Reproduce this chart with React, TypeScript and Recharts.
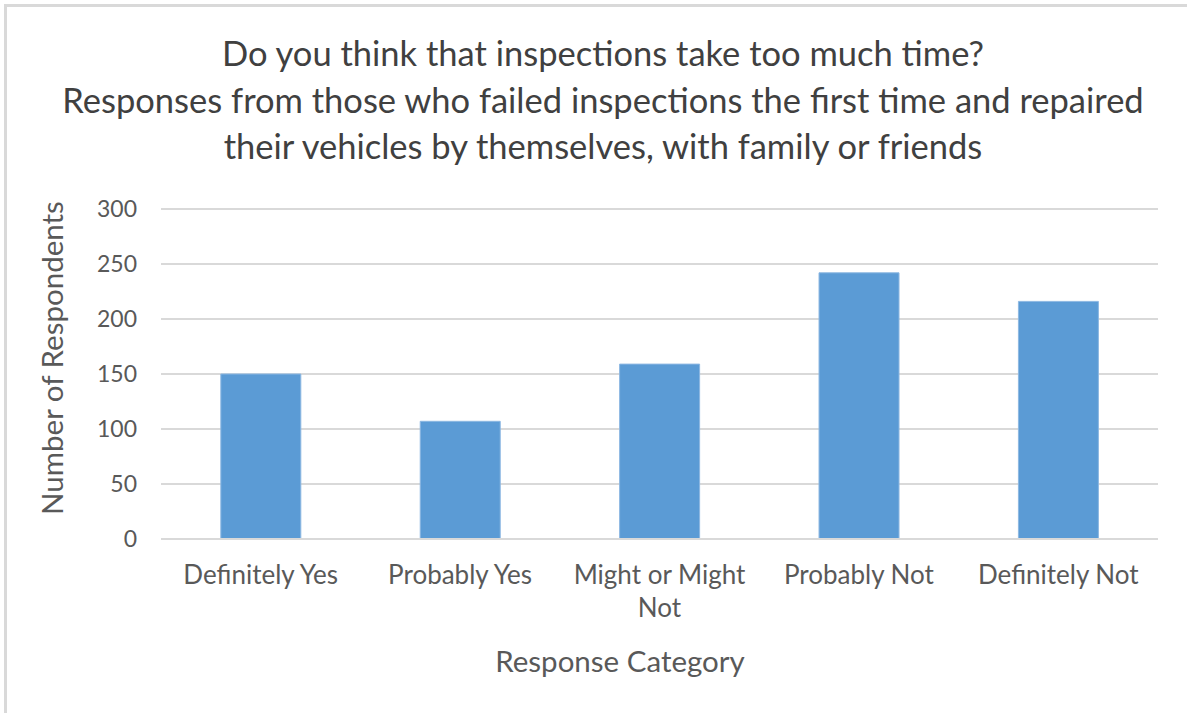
import React from 'react';
import { BarChart, Bar, XAxis, YAxis, CartesianGrid } from 'recharts';

const categories: string[] = ['Definitely Yes', 'Probably Yes', 'Might or Might Not', 'Probably Not', 'Definitely Not'];
const respondents: number[] = [150, 107, 159, 242, 216];
const yTicks: number[] = [0, 50, 100, 150, 200, 250, 300];
const titleLines: string[] = [
  'Do you think that inspections take too much time?',
  'Responses from those who failed inspections the first time and repaired',
  'their vehicles by themselves, with family or friends',
];
const xAxisTitle = 'Response Category';
const yAxisTitle = 'Number of Respondents';

const data = categories.map((c, i) => ({ category: c, value: respondents[i] }));

const FONT = 'Lato, "Open Sans", sans-serif';
const TICK_FONT_SIZE = 26;

let ctx: CanvasRenderingContext2D | null = null;
function measure(s: string): number {
  if (!ctx && typeof document !== 'undefined') {
    ctx = document.createElement('canvas').getContext('2d');
  }
  if (!ctx) return s.length * TICK_FONT_SIZE * 0.5;
  ctx.font = `${TICK_FONT_SIZE}px Lato`;
  return ctx.measureText(s).width;
}

function wrap(label: string, maxWidth: number): string[] {
  const words = label.split(' ');
  const lines: string[] = [];
  let cur = '';
  for (const w of words) {
    const next = cur ? cur + ' ' + w : w;
    if (cur && measure(next) > maxWidth) {
      lines.push(cur);
      cur = w;
    } else {
      cur = next;
    }
  }
  if (cur) lines.push(cur);
  return lines;
}

const XTick = (props: any) => {
  const { x, y, payload } = props;
  const lines = wrap(String(payload.value), 195);
  return (
    <text x={x} y={y} textAnchor="middle" fill="#595959" fontSize={TICK_FONT_SIZE} fontFamily={FONT}>
      {lines.map((l, i) => (
        <tspan key={i} x={x} dy={i === 0 ? '0.71em' : 33}>
          {l}
        </tspan>
      ))}
    </text>
  );
};

export default function App() {
  return (
    <div style={{ position: 'absolute', left: 0, top: 0, width: 1187, height: 713, background: '#fff', overflow: 'hidden', fontFamily: FONT }}>
      <div style={{ position: 'absolute', left: 4, top: 4, width: 1183, height: 3, background: '#d9d9d9' }} />
      <div style={{ position: 'absolute', left: 4, top: 4, width: 3, height: 709, background: '#d9d9d9' }} />
      <div style={{ position: 'absolute', left: 0, top: 30, width: 1206, textAlign: 'center', color: '#404040', fontSize: 34.5, lineHeight: '46.5px', whiteSpace: 'nowrap' }}>
        {titleLines.map((l, i) => (
          <div key={i}>{l}</div>
        ))}
      </div>
      <div style={{ position: 'absolute', left: 0, top: 0 }}>
        <BarChart width={1187} height={713} data={data} margin={{ top: 209, right: 29, bottom: 94, left: 61 }} barCategoryGap="30%">
          <CartesianGrid vertical={false} stroke="#d9d9d9" strokeWidth={2} />
          <XAxis
            dataKey="category"
            axisLine={{ stroke: '#d9d9d9', strokeWidth: 2 }}
            tickLine={false}
            tick={<XTick />}
            tickMargin={21}
            interval={0}
            height={80}
          />
          <YAxis
            width={100}
            domain={[0, 300]}
            ticks={yTicks}
            axisLine={false}
            tickLine={false}
            tickMargin={18}
            tick={{ fill: '#595959', fontSize: 23, fontFamily: FONT }}
          />
          <Bar dataKey="value" fill="#5b9bd5" stroke="#8db8e2" strokeWidth={1} isAnimationActive={false} />
        </BarChart>
      </div>
      <div style={{ position: 'absolute', left: 420, top: 643, width: 400, textAlign: 'center', color: '#595959', fontSize: 29.5, lineHeight: '36px', whiteSpace: 'nowrap' }}>{xAxisTitle}</div>
      <div style={{ position: 'absolute', left: 52, top: 358, width: 0, height: 0 }}>
        <div style={{ position: 'absolute', left: -200, top: -18, width: 400, textAlign: 'center', color: '#595959', fontSize: 29.5, lineHeight: '36px', transform: 'rotate(-90deg)', whiteSpace: 'nowrap' }}>{yAxisTitle}</div>
      </div>
    </div>
  );
}
